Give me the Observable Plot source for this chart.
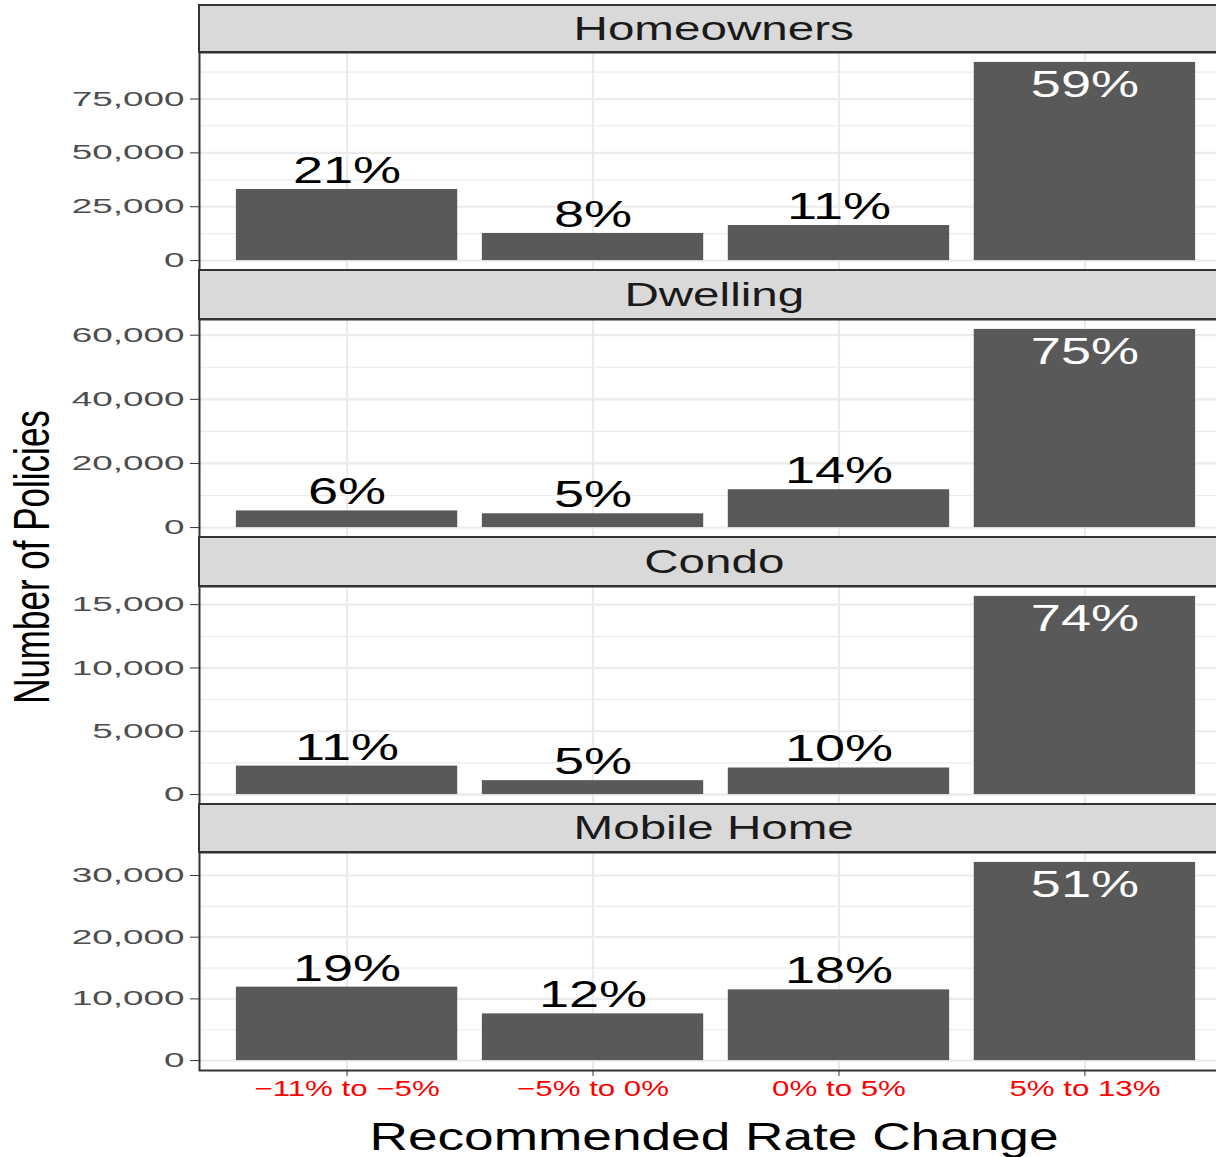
<!DOCTYPE html>
<html><head><meta charset="utf-8">
<script src="https://cdn.jsdelivr.net/npm/d3@7"></script>
<script src="https://cdn.jsdelivr.net/npm/@observablehq/plot@0.6"></script>
<style>
html,body{margin:0;padding:0;background:#fff;overflow:hidden;}
#chart{position:relative;width:1216px;height:1157px;overflow:hidden;font-family:"Liberation Sans",Arial,sans-serif;background:#fff;}
.strip{position:absolute;left:198px;width:1032px;box-sizing:border-box;border:2px solid #333;background:#d9d9d9;display:flex;align-items:center;justify-content:center;}
.strip span{display:inline-block;font-size:33.5px;color:#1a1a1a;transform:scaleX(1.42);line-height:1;white-space:nowrap;}
.panel{position:absolute;left:0;}
.ytitle{position:absolute;left:30.5px;top:557px;font-size:35px;line-height:1;white-space:nowrap;color:#000;transform-origin:0 0;transform:scaleX(1.41) rotate(-90deg) translate(-50%,-50%);}
.xtitle{position:absolute;left:714px;top:1137px;font-size:38px;line-height:0.8;white-space:nowrap;color:#000;transform-origin:0 0;transform:scaleX(1.4) translate(-50%,-50%);}
</style></head><body><div id="chart"></div>
<script>
// ---- data ----
const categories = ["\u221211% to \u22125%", "\u22125% to 0%", "0% to 5%", "5% to 13%"];
const facetNames = ["Homeowners", "Dwelling", "Condo", "Mobile Home"];

const homeownersCounts = [33000, 12600, 16300, 92000];
const dwellingCounts   = [5200, 4300, 11800, 61800];
const condoCounts      = [2250, 1100, 2100, 15650];
const mobileHomeCounts = [11900, 7570, 11460, 32120];

const homeownersLabels = ["21%", "8%", "11%", "59%"];
const dwellingLabels   = ["6%", "5%", "14%", "75%"];
const condoLabels      = ["11%", "5%", "10%", "74%"];
const mobileHomeLabels = ["19%", "12%", "18%", "51%"];

const homeownersTicks = [0, 25000, 50000, 75000];
const dwellingTicks   = [0, 20000, 40000, 60000];
const condoTicks      = [0, 5000, 10000, 15000];
const mobileHomeTicks = [0, 10000, 20000, 30000];

const yTitle = "Number of Policies";
const xTitle = "Recommended Rate Change";

// ---- layout ----
const facetCounts = [homeownersCounts, dwellingCounts, condoCounts, mobileHomeCounts];
const facetLabels = [homeownersLabels, dwellingLabels, condoLabels, mobileHomeLabels];
const facetTicks = [homeownersTicks, dwellingTicks, condoTicks, mobileHomeTicks];
const panelTops = [52, 319, 585.5, 852];
const panelH = 218;
const chart = document.getElementById("chart");

function stretch(el, f) {
  const len = el.getComputedTextLength();
  if (len > 0) {
    el.setAttribute("textLength", len * f);
    el.setAttribute("lengthAdjust", "spacingAndGlyphs");
  }
}

facetNames.forEach((name, k) => {
  const counts = facetCounts[k];
  const data = categories.map((c, i) => ({category: c, count: counts[i], label: facetLabels[k][i]}));
  const max = d3.max(counts);
  const last = k === facetNames.length - 1;
  const ticks = facetTicks[k];
  const step = ticks[1] - ticks[0];
  const minor = d3.range(ticks[0] + step / 2, 1.05 * max, step);
  const mb = last ? 60 : 2;
  const svg = Plot.plot({
    width: 1232,
    height: 2 + panelH + mb,
    marginLeft: 199, marginRight: 0, marginTop: 2, marginBottom: mb,
    style: {fontFamily: "Liberation Sans, Arial, sans-serif", fontSize: "20.5px", color: "#333", background: "transparent", maxWidth: "none"},
    x: {type: "band", domain: categories, round: false, paddingInner: 0.1, paddingOuter: 0.15, axis: last ? "bottom" : null, tickSize: 6, tickPadding: 4, label: null},
    y: {domain: [-0.05 * max, 1.05 * max], ticks: ticks, tickFormat: d3.format(","), tickSize: 9, tickPadding: 6, label: null},
    marks: [
      Plot.ruleY(minor, {stroke: "#ebebeb", strokeWidth: 1.2}),
      Plot.ruleY(ticks, {stroke: "#ebebeb", strokeWidth: 2.2}),
      Plot.ruleX(categories, {x: d => d, stroke: "#ebebeb", strokeWidth: 2.2}),
      Plot.barY(data, {x: "category", y: "count", fill: "#595959"}),
      Plot.text(data.filter(d => d.count < max), {x: "category", y: "count", text: "label", lineAnchor: "bottom", dy: -6.5, fill: "#000", fontSize: 36.5}),
      Plot.text(data.filter(d => d.count === max), {x: "category", y: "count", text: "label", lineAnchor: "bottom", dy: 35, fill: "#fff", fontSize: 36.5}),
      Plot.frame({stroke: "#333", strokeWidth: 2})
    ]
  });
  svg.classList.add("panel");
  svg.style.top = (panelTops[k] - 2) + "px";
  svg.style.maxWidth = "none";
  chart.appendChild(svg);
  const s = d3.select(svg);
  s.selectAll('[aria-label^="y-axis"] text').attr("fill", "#4d4d4d").each(function() { stretch(this, 1.8); });
  s.selectAll('[aria-label^="x-axis"] text').attr("fill", "#ff0000").style("font-size", "22px").each(function() { stretch(this, 1.42); });
  s.selectAll('g[aria-label="text"] text').each(function() { stretch(this, 1.48); });
});

facetNames.forEach((name, k) => {
  const prevBottom = k === 0 ? 5 : panelTops[k - 1] + panelH;
  const div = document.createElement("div");
  div.className = "strip";
  div.style.top = (prevBottom - 1) + "px";
  div.style.height = (panelTops[k] - prevBottom + 2) + "px";
  const span = document.createElement("span");
  span.textContent = name;
  div.appendChild(span);
  chart.appendChild(div);
});

const yt = document.createElement("div");
yt.className = "ytitle";
yt.textContent = yTitle;
chart.appendChild(yt);

const xt = document.createElement("div");
xt.className = "xtitle";
xt.textContent = xTitle;
chart.appendChild(xt);
</script></body></html>
